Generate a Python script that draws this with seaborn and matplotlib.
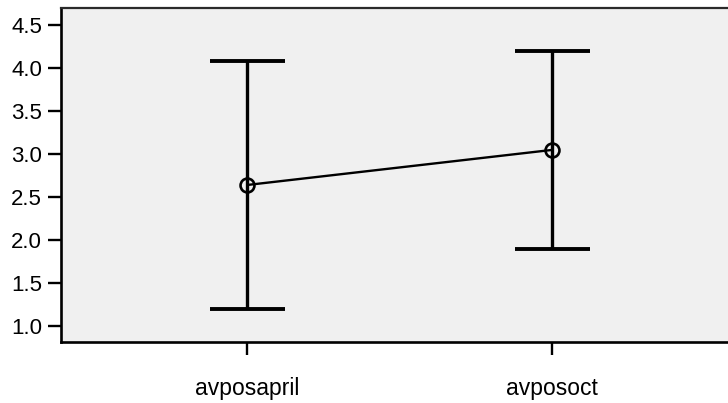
import matplotlib
matplotlib.use("Agg")
import matplotlib.pyplot as plt
import seaborn as sns

# Mean score with its interval for each measurement
categories = ["avposapril", "avposoct"]
means = [2.638, 3.046]
lower = [1.194, 1.889]
upper = [4.078, 4.194]
yticks = [1.0, 1.5, 2.0, 2.5, 3.0, 3.5, 4.0, 4.5]

sns.set_theme(style="white")
plt.rcParams["font.family"] = ["Liberation Sans", "DejaVu Sans"]

fig = plt.figure(figsize=(7.28, 4.03), dpi=100)
ax = fig.add_axes([61 / 728, 1 - 342.3 / 403, 1 - 61 / 728, (342.3 - 8) / 403])
ax.set_facecolor("#F0F0F0")

# interval bars with wide caps
pos = list(range(len(categories)))
yerr = [[m - lo for m, lo in zip(means, lower)], [hi - m for m, hi in zip(means, upper)]]
ax.errorbar(pos, means, yerr=yerr, fmt="none", ecolor="black",
            elinewidth=2.4, capsize=27, capthick=2.8, zorder=2)

# means joined by a line, drawn as open circles
sns.lineplot(x=pos, y=means, ax=ax, color="black", linewidth=1.7,
             marker="o", markersize=10, markerfacecolor="none",
             markeredgecolor="black", markeredgewidth=1.9, zorder=3)

ax.set_xlim(-0.611, 1.578)
ax.set_ylim(0.807, 4.698)
ax.set_xticks(pos)
ax.set_xticklabels(categories)
ax.set_yticks(yticks)
ax.set_yticklabels([f"{v:.1f}" for v in yticks])
ax.set_xlabel("")
ax.set_ylabel("")

ax.tick_params(axis="y", which="major", direction="out", length=9.5, width=1.7,
               color="black", labelsize=16, pad=4, left=True)
ax.tick_params(axis="x", which="major", direction="out", length=9.5, width=1.7,
               color="black", labelsize=16.5, pad=15.5, bottom=True)
for lab in ax.get_xticklabels() + ax.get_yticklabels():
    lab.set_color("black")

for side in ["left", "bottom"]:
    ax.spines[side].set_visible(True)
    ax.spines[side].set_color("black")
    ax.spines[side].set_linewidth(1.9)
ax.spines["top"].set_visible(True)
ax.spines["top"].set_color("#2a2a2a")
ax.spines["top"].set_linewidth(1.6)
ax.spines["right"].set_visible(False)

fig.savefig("out.png", dpi=100)
